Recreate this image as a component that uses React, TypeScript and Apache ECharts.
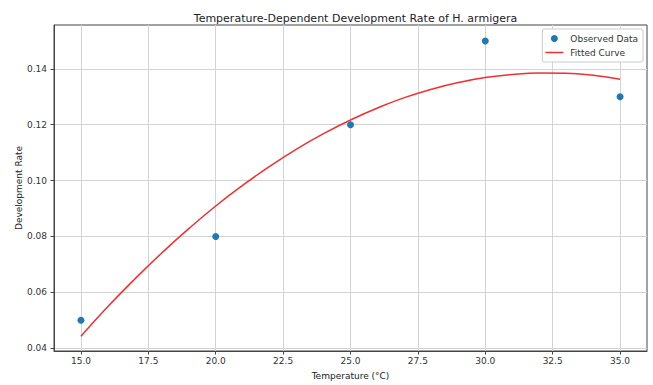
import React, { useEffect, useRef } from "react";
import * as echarts from "echarts";

const observedTemp = [15, 20, 25, 30, 35];
const observedRate = [0.05, 0.08, 0.12, 0.15, 0.13];

const curveTemp = [15, 16, 17, 18, 19, 20, 21, 22, 23, 24, 25, 26, 27, 28, 29, 30, 31, 32, 33, 34, 35];
const curveRate = [
  0.0443, 0.0549, 0.0648, 0.0741, 0.0828, 0.0909, 0.0983, 0.1051, 0.1113, 0.1168, 0.1217,
  0.126, 0.1297, 0.1327, 0.1351, 0.1369, 0.138, 0.1385, 0.1384, 0.1377, 0.1363,
];

const xTicks = [15, 17.5, 20, 22.5, 25, 27.5, 30, 32.5, 35];
const yTicks = [0.04, 0.06, 0.08, 0.1, 0.12, 0.14];

const FONT = "DejaVu Sans";

export default function App() {
  const ref = useRef<HTMLDivElement>(null);
  useEffect(() => {
    if (!ref.current) return;
    const chart = echarts.init(ref.current, undefined, { renderer: "svg" });
    chart.setOption({
      animation: false,
      backgroundColor: "#ffffff",
      textStyle: { fontFamily: FONT },
      title: {
        text: "Temperature-Dependent Development Rate of H. armigera",
        left: 350.5,
        textAlign: "center",
        top: 8,
        textStyle: { fontSize: 11, fontWeight: "normal", color: "#222", fontFamily: FONT },
      },
      legend: {
        right: 10,
        top: 29,
        orient: "vertical",
        itemWidth: 18,
        itemHeight: 7,
        itemGap: 5,
        padding: [5, 5, 5, 3],
        borderColor: "#cccccc",
        borderWidth: 1,
        borderRadius: 2,
        backgroundColor: "#ffffff",
        symbolKeepAspect: true,
        textStyle: { fontSize: 9, color: "#333", fontFamily: FONT, padding: [0, 0, 0, 2] },
        data: [
          { name: "Observed Data", icon: "circle" },
          { name: "Fitted Curve", icon: "path://M0,0 L18,0 L18,1.5 L0,1.5 Z" },
        ],
      },
      grid: {
        left: 54,
        right: 6,
        top: 25,
        bottom: 29,
        show: true,
        borderColor: "#444",
        borderWidth: 1,
      },
      xAxis: {
        type: "value",
        min: 14,
        max: 36,
        name: "Temperature (°C)",
        nameLocation: "middle",
        nameGap: 20,
        nameMoveOverlap: false,
        nameTextStyle: { fontSize: 9, color: "#222", fontFamily: FONT },
        axisLine: { show: true, lineStyle: { color: "#444", width: 1 } },
        axisTick: { show: true, length: 3.5, customValues: xTicks, lineStyle: { color: "#444" } },
        axisLabel: {
          customValues: xTicks,
          fontSize: 9,
          color: "#333",
          margin: 5,
          formatter: (v: number) => v.toFixed(1),
        },
        splitLine: { show: true, lineStyle: { color: "#d3d3d3", width: 1 } },
      },
      yAxis: {
        type: "value",
        min: 0.039,
        max: 0.1557,
        name: "Development Rate",
        nameLocation: "middle",
        nameGap: 31,
        nameMoveOverlap: false,
        nameTextStyle: { fontSize: 9, color: "#222", fontFamily: FONT },
        axisLine: { show: true, lineStyle: { color: "#444", width: 1 } },
        axisTick: { show: true, length: 3.5, customValues: yTicks, lineStyle: { color: "#444" } },
        axisLabel: {
          customValues: yTicks,
          fontSize: 9,
          color: "#333",
          margin: 7,
          formatter: (v: number) => v.toFixed(2),
        },
        splitLine: { show: true, lineStyle: { color: "#d3d3d3", width: 1 } },
      },
      series: [
        {
          name: "Observed Data",
          type: "scatter",
          symbol: "circle",
          symbolSize: 7,
          itemStyle: { color: "#1f77b4", opacity: 1 },
          data: observedTemp.map((t, i) => [t, observedRate[i]]),
          z: 3,
        },
        {
          name: "Fitted Curve",
          type: "line",
          smooth: true,
          symbol: "none",
          showSymbol: false,
          lineStyle: { color: "#f03030", width: 1.5 },
          itemStyle: { color: "#f03030" },
          data: curveTemp.map((t, i) => [t, curveRate[i]]),
          z: 2,
        },
      ],
    });
    return () => chart.dispose();
  }, []);
  return <div ref={ref} style={{ width: 653, height: 385, position: "fixed", left: 0, top: 0 }} />;
}
